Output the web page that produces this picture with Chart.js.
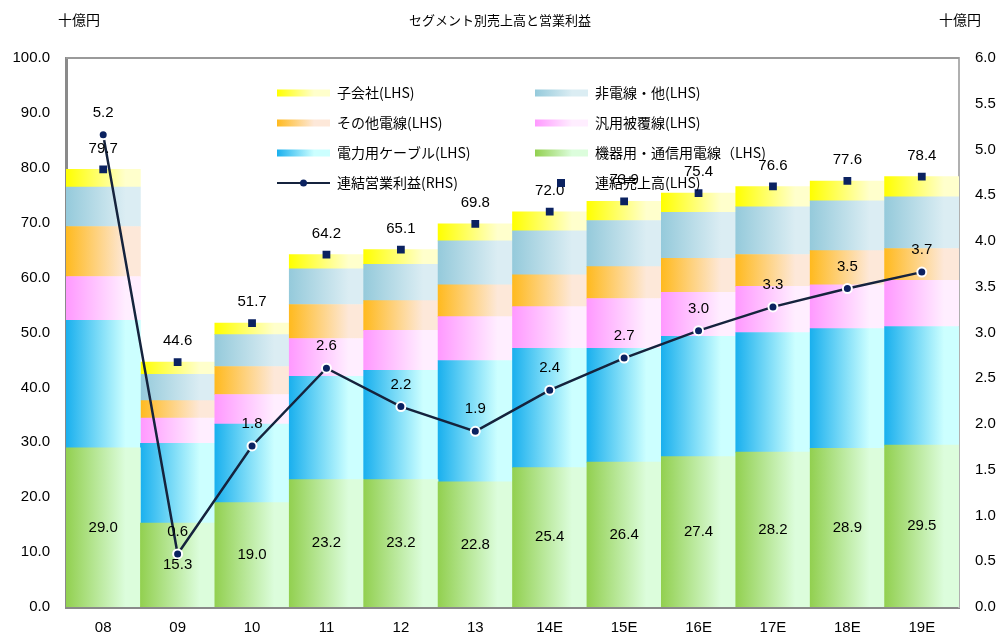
<!DOCTYPE html>
<html>
<head>
<meta charset="utf-8">
<script src="https://cdn.jsdelivr.net/npm/chart.js"></script>
<style>
  body { margin: 0; background: #fff; }
  #wrap { width: 999px; height: 634px; }
</style>
</head>
<body>
<div id="wrap"><canvas id="segChart"></canvas></div>
<script>
  // 十億円
  const years = ['08', '09', '10', '11', '12', '13', '14E', '15E', '16E', '17E', '18E', '19E'];
  const kikiyou = [29.0, 15.3, 19.0, 23.2, 23.2, 22.8, 25.4, 26.4, 27.4, 28.2, 28.9, 29.5];
  const denryoku = [23.2, 14.5, 14.3, 18.8, 19.9, 22.1, 21.7, 20.7, 21.9, 21.8, 21.8, 21.6];
  const hanyou = [8.0, 4.6, 5.4, 6.9, 7.3, 8.0, 7.6, 9.1, 8.0, 8.4, 8.0, 8.4];
  const sonota = [9.1, 3.2, 5.1, 6.2, 5.4, 5.8, 5.8, 5.8, 6.2, 5.8, 6.2, 5.8];
  const hidensen = [7.2, 4.8, 5.8, 6.5, 6.6, 8.0, 8.0, 8.4, 8.4, 8.7, 9.1, 9.4];
  const kogaisha = [3.2, 2.2, 2.1, 2.6, 2.7, 3.1, 3.5, 3.5, 3.5, 3.7, 3.6, 3.7];
  const totalSales = [79.7, 44.6, 51.7, 64.2, 65.1, 69.8, 72.0, 73.9, 75.4, 76.6, 77.6, 78.4];
  const opProfit = [5.16, 0.58, 1.76, 2.61, 2.19, 1.92, 2.37, 2.72, 3.02, 3.28, 3.48, 3.66];

  const NAVY = '#0b2260';
  const LINE = '#15233d';
  const FONT = '"Liberation Sans", Arial, sans-serif';
  const JFONT = '"Noto Sans CJK JP", sans-serif';

  // [dark, light] for each segment
  const GREEN = ['#92d050', '#dcfddc'];
  const BLUE = ['#1ab0ee', '#ccffff'];
  const PINK = ['#ff99ff', '#ffeeff'];
  const ORANGE = ['#ffba1f', '#fde8d9'];
  const LBLUE = ['#95cadb', '#dbedf3'];
  const YELLOW = ['#ffff00', '#ffffcc'];

  function barGradient(c) {
    return function (ctx) {
      const chart = ctx.chart;
      const xs = chart.scales.x;
      if (!chart.chartArea || !xs || ctx.dataIndex === undefined) return c[0];
      const cx = xs.getPixelForValue(ctx.dataIndex);
      const half = xs.width / years.length / 2;
      const g = chart.ctx.createLinearGradient(cx - half, 0, cx + half, 0);
      g.addColorStop(0, c[0]);
      g.addColorStop(0.8, c[1]);
      g.addColorStop(1, c[1]);
      return g;
    };
  }

  function barSet(label, data, c) {
    return {
      type: 'bar',
      label: label,
      data: data,
      backgroundColor: barGradient(c),
      borderWidth: 0,
      barPercentage: 1,
      categoryPercentage: 1,
      yAxisID: 'y',
      stack: 'sales',
      order: 2
    };
  }

  const legendItems = [
    { text: '子会社(LHS)', kind: 'bar', c: YELLOW },
    { text: '非電線・他(LHS)', kind: 'bar', c: LBLUE },
    { text: 'その他電線(LHS)', kind: 'bar', c: ORANGE },
    { text: '汎用被覆線(LHS)', kind: 'bar', c: PINK },
    { text: '電力用ケーブル(LHS)', kind: 'bar', c: BLUE },
    { text: '機器用・通信用電線（LHS)', kind: 'bar', c: GREEN },
    { text: '連結営業利益(RHS)', kind: 'line' },
    { text: '連結売上高(LHS)', kind: 'square' }
  ];

  const decor = {
    id: 'decor',
    afterDatasetsDraw(chart) {
      const ctx = chart.ctx;
      ctx.save();
      ctx.fillStyle = '#000';
      ctx.font = '15px ' + FONT;
      ctx.textAlign = 'center';
      ctx.textBaseline = 'middle';
      // green segment labels
      chart.getDatasetMeta(2).data.forEach((el, i) => {
        ctx.fillText(kikiyou[i].toFixed(1), el.x, (el.y + el.base) / 2);
      });
      // totals
      chart.getDatasetMeta(1).data.forEach((el, i) => {
        ctx.fillText(totalSales[i].toFixed(1), el.x, el.y - 21);
      });
      // operating profit
      chart.getDatasetMeta(0).data.forEach((el, i) => {
        ctx.fillText(opProfit[i].toFixed(1), el.x, el.y - 22);
      });
      ctx.restore();
    },
    afterDraw(chart) {
      const ctx = chart.ctx;
      const a = chart.chartArea;
      ctx.save();
      // top frame
      ctx.strokeStyle = '#9a9a9a';
      ctx.lineWidth = 2;
      ctx.beginPath();
      ctx.moveTo(a.left, a.top);
      ctx.lineTo(a.right, a.top);
      ctx.stroke();

      // title + units
      ctx.fillStyle = '#000';
      ctx.textBaseline = 'middle';
      ctx.font = '13px ' + JFONT;
      ctx.textAlign = 'center';
      ctx.fillText('セグメント別売上高と営業利益', 500, 20);
      ctx.font = '14px ' + JFONT;
      ctx.fillText('十億円', 79, 20);
      ctx.fillText('十億円', 960, 20);

      // legend, two columns
      legendItems.forEach((it, i) => {
        const col = i % 2;
        const row = Math.floor(i / 2);
        const x0 = col === 0 ? 277 : 535;
        const y = 93 + row * 30;
        if (it.kind === 'bar') {
          const g = ctx.createLinearGradient(x0, 0, x0 + 53, 0);
          g.addColorStop(0, it.c[0]);
          g.addColorStop(0.7, it.c[1]);
          g.addColorStop(1, it.c[1]);
          ctx.fillStyle = g;
          ctx.fillRect(x0, y - 3.5, 53, 7);
        } else if (it.kind === 'line') {
          ctx.strokeStyle = LINE;
          ctx.lineWidth = 2;
          ctx.beginPath();
          ctx.moveTo(x0, y);
          ctx.lineTo(x0 + 53, y);
          ctx.stroke();
          ctx.fillStyle = NAVY;
          ctx.beginPath();
          ctx.arc(x0 + 26.5, y, 3.5, 0, Math.PI * 2);
          ctx.fill();
        } else {
          ctx.fillStyle = NAVY;
          ctx.fillRect(x0 + 22, y - 4, 8, 8);
        }
        ctx.fillStyle = '#000';
        ctx.textAlign = 'left';
        ctx.font = '14px ' + JFONT;
        ctx.fillText(it.text, x0 + 60, y);
      });
      ctx.restore();
    }
  };

  new Chart(document.getElementById('segChart'), {
    data: {
      labels: years,
      datasets: [
        {
          type: 'line',
          label: '連結営業利益(RHS)',
          data: opProfit,
          yAxisID: 'y2',
          borderColor: LINE,
          borderWidth: 2.5,
          pointRadius: 4.5,
          pointBackgroundColor: NAVY,
          pointBorderColor: '#fff',
          pointBorderWidth: 2,
          tension: 0,
          order: 0
        },
        {
          type: 'line',
          label: '連結売上高(LHS)',
          data: totalSales,
          yAxisID: 'y',
          stack: 'total',
          showLine: false,
          pointStyle: 'rect',
          pointRadius: 5.5,
          pointBackgroundColor: NAVY,
          pointBorderWidth: 0,
          order: 1
        },
        barSet('機器用・通信用電線（LHS)', kikiyou, GREEN),
        barSet('電力用ケーブル(LHS)', denryoku, BLUE),
        barSet('汎用被覆線(LHS)', hanyou, PINK),
        barSet('その他電線(LHS)', sonota, ORANGE),
        barSet('非電線・他(LHS)', hidensen, LBLUE),
        barSet('子会社(LHS)', kogaisha, YELLOW)
      ]
    },
    options: {
      responsive: true,
      maintainAspectRatio: false,
      animation: false,
      layout: { padding: { top: 58, left: 0, right: 0, bottom: 0 } },
      plugins: {
        legend: { display: false },
        tooltip: { enabled: false }
      },
      scales: {
        x: {
          stacked: true,
          grid: { display: false, drawTicks: false },
          border: { display: true, color: '#8a8a8a', width: 3 },
          ticks: { color: '#000', font: { family: FONT, size: 15 }, padding: 12 },
          afterFit(s) { s.height = 27; }
        },
        y: {
          stacked: true,
          min: 0,
          max: 100,
          grid: { display: false, drawTicks: false },
          border: { display: true, color: '#8a8a8a', width: 3 },
          ticks: {
            stepSize: 10,
            color: '#000',
            font: { family: FONT, size: 15 },
            padding: 16,
            callback: v => v.toFixed(1)
          },
          afterFit(s) { s.width = 66; }
        },
        y2: {
          position: 'right',
          min: 0,
          max: 6,
          grid: { display: false, drawTicks: false },
          border: { display: true, color: '#b0b0b0', width: 2, dash: [2, 2] },
          ticks: {
            stepSize: 0.5,
            color: '#000',
            font: { family: FONT, size: 15 },
            padding: 16,
            callback: v => v.toFixed(1)
          },
          afterFit(s) { s.width = 40; }
        }
      }
    },
    plugins: [decor]
  });
</script>
</body>
</html>
